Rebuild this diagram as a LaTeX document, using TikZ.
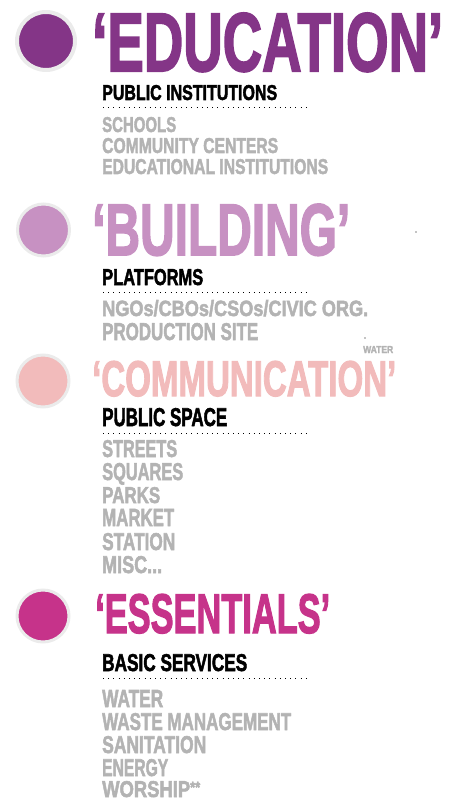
\documentclass[tikz,border=0pt]{standalone}
\usepackage{graphicx}
\usepackage{fontspec}
\setmainfont{Liberation Sans}[BoldFeatures={FakeBold=2.5}]
\usepackage{tikz}
\usetikzlibrary{positioning}
\definecolor{educol}{HTML}{843587}
\definecolor{buildcol}{HTML}{C791C2}
\definecolor{commcol}{HTML}{F2BBBB}
\definecolor{esscol}{HTML}{C6338A}
\definecolor{itemgray}{HTML}{B3B3B3}
\definecolor{ringgray}{HTML}{EBEBEB}
\newcommand\squeeze[3]{\resizebox{#1pt}{#2pt}{\bfseries #3}}
\tikzset
{
    bigdot/.style   = {circle, draw=ringgray, inner sep=0pt},
    title/.style    = {anchor=base west, inner sep=0pt},
    head/.style     = {anchor=base west, inner sep=0pt, text=black},
    item/.style     = {anchor=base west, inner sep=0pt, text=itemgray},
    rule/.style     = {line width=1pt, dash pattern=on 1pt off 4.2pt, black},
    speck/.style    = {circle, fill=black, inner sep=0pt, minimum size=1.3pt}
}
\begin{document}
\begin{tikzpicture}[x=1pt,y=-1pt]
		\useasboundingbox (0,0) rectangle (458,799);
		% education
		\node (edudot)	[bigdot, fill=educol, line width=4pt, minimum size=58pt] at (46,41) {};
		\node (edu)		[title, text=educol] 	at (92,71)       {\squeeze{351}{58}{‘EDUCATION’}};
		\node (eduh)	[head]					at (102,100)     {\squeeze{175}{15}{PUBLIC INSTITUTIONS}};
		\draw[rule] (103,108) -- (310,108);
		\node (edu1)	[item]					at (102,132)     {\squeeze{74}{15}{SCHOOLS}};
		\node (edu2)	[item]					at (102,153)     {\squeeze{176}{15}{COMMUNITY CENTERS}};
		\node (edu3)	[item]					at (102,174)     {\squeeze{226}{15}{EDUCATIONAL INSTITUTIONS}};
		% building
		\node (buidot)	[bigdot, fill=buildcol, line width=3pt, minimum size=52pt] at (43.5,230) {};
		\node (bui)		[title, text=buildcol] 	at (92,255)      {\squeeze{258}{51}{‘BUILDING’}};
		\node (buih)	[head]					at (102,285)     {\squeeze{101}{16}{PLATFORMS}};
		\draw[rule] (103,292) -- (310,292);
		\node (bui1)	[item]					at (102,316)     {\squeeze{266}{16}{NGOs/CBOs/CSOs/CIVIC ORG.}};
		\node (bui2)	[item]					at (102,340)     {\squeeze{156}{17}{PRODUCTION SITE}};
		\node (speck1)	[speck]					at (416,232)     {};
		\node (speck2)	[speck]					at (365,338)     {};
		\node (water0)	[item]					at (363,353)     {\squeeze{30}{7}{WATER}};
		% communication
		\node (comdot)	[bigdot, fill=commcol, line width=3pt, minimum size=52pt] at (43,381) {};
		\node (com)		[title, text=commcol] 	at (92,396)      {\squeeze{304}{35}{‘COMMUNICATION’}};
		\node (comh)	[head]					at (102,426)     {\squeeze{125}{18}{PUBLIC SPACE}};
		\draw[rule] (103,433) -- (310,433);
		\node (com1)	[item]					at (102,457)     {\squeeze{75}{17}{STREETS}};
		\node (com2)	[item]					at (102,480)     {\squeeze{81}{17}{SQUARES}};
		\node (com3)	[item]					at (102,503)     {\squeeze{58}{16}{PARKS}};
		\node (com4)	[item]					at (102,526)     {\squeeze{72}{17}{MARKET}};
		\node (com5)	[item]					at (102,550)     {\squeeze{73}{17}{STATION}};
		\node (com6)	[item]					at (102,573)     {\squeeze{60}{17}{MISC...}};
		% essentials
		\node (essdot)	[bigdot, fill=esscol, line width=3pt, minimum size=52pt] at (43,616) {};
		\node (ess)		[title, text=esscol] 	at (95,633)      {\squeeze{235}{39}{‘ESSENTIALS’}};
		\node (essh)	[head]					at (102,671)     {\squeeze{145}{17}{BASIC SERVICES}};
		\draw[rule] (103,678) -- (310,678);
		\node (ess1)	[item]					at (102,707)     {\squeeze{61}{17}{WATER}};
		\node (ess2)	[item]					at (102,730)     {\squeeze{189}{17}{WASTE MANAGEMENT}};
		\node (ess3)	[item]					at (102,753)     {\squeeze{104}{17}{SANITATION}};
		\node (ess4)	[item]					at (102,776)     {\squeeze{66}{17}{ENERGY}};
		\node (ess5)	[item]					at (102,797)     {\squeeze{98}{16}{WORSHIP\raisebox{0.35ex}{\scriptsize**}}};
	\end{tikzpicture}
\end{document}
